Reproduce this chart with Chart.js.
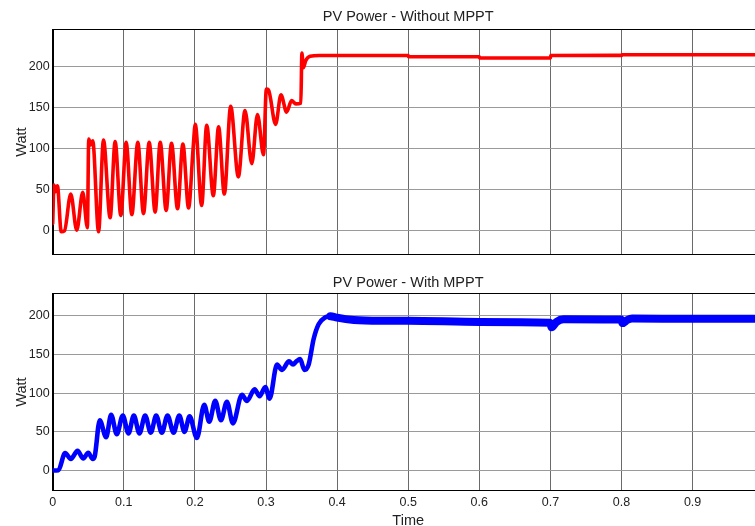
<!DOCTYPE html>
<html><head><meta charset="utf-8">
<script src="https://cdn.jsdelivr.net/npm/chart.js@4/dist/chart.umd.min.js"></script>
<style>
html,body{margin:0;padding:0;overflow:hidden;background:#fff;width:755px;height:526px}
#c1{position:absolute;left:0;top:0}
#c2{position:absolute;left:0;top:262px}
</style></head><body>
<canvas id="c1" width="770" height="262"></canvas>
<canvas id="c2" width="770" height="268"></canvas>
<script>
// ---- data ----
const topTitle = "PV Power - Without MPPT";
const bottomTitle = "PV Power - With MPPT";
const yAxisTitle = "Watt";
const xAxisTitle = "Time";
const xTicks = [0,0.1,0.2,0.3,0.4,0.5,0.6,0.7,0.8,0.9,1.0];
const xTickLabels = ["0","0.1","0.2","0.3","0.4","0.5","0.6","0.7","0.8","0.9","1"];
const yTicks = [0,50,100,150,200];

const redTime = [0,0.0018,0.0042,0.0066,0.012,0.0165,0.0254,0.0338,0.0423,0.0488,0.0507,0.0535,0.0563,0.0645,
  0.0714,0.0808,0.0878,0.0958,0.1033,0.1113,0.1197,0.1277,0.1357,0.1441,0.1512,0.1596,0.1671,0.1756,0.1831,0.1911,
  0.1975,0.2005,0.2095,0.2166,0.2259,0.2333,0.2414,0.2503,0.2611,0.2705,0.2800,0.2880,0.2965,0.3005,0.3035,0.3135,
  0.3210,0.3290,0.3360,0.3420,0.3490,0.3505,0.3525,0.3560,0.3620,0.3750,0.50,0.5005,0.60,0.6005,0.70,0.7005,0.80,0.8005,1.0];
const redWatt = [8,55,47,54,-2,-1,44,0,46,3,111,104,109,-2,
  110,15,108,18,107,19,107,20,107,22,107,24,106,26,105,27,
  100,129,30,128,42,126,44,151,65,146,81,141,92,172,171,129,
  165,144,158,154,155,216,198,207,212,213,213,211.5,211.5,210,210,213,213.2,214,214];

const blueTime = [0,0.008,0.0175,0.0255,0.035,0.043,0.050,0.0562,0.059,0.0662,0.0751,0.0822,0.0901,0.0986,0.1066,
  0.1141,0.122,0.130,0.138,0.1455,0.1535,0.1615,0.170,0.178,0.1854,0.1925,0.2028,0.2131,0.2202,0.2286,0.2366,0.245,
  0.2535,0.2662,0.2732,0.284,0.291,0.299,0.305,0.3155,0.3225,0.3324,0.338,0.3427,0.348,0.354,0.360,0.367,0.374,
  0.3836,0.3906,0.40,0.4235,0.461,0.5,0.6,0.6995,0.7015,0.7085,0.7185,0.7995,0.8015,0.808,0.815,0.9,1.0];
const blueWatt = [0,0.5,22.5,15,25.5,15.5,23,15,18,65,43,72,47,71,48,
  71,48,71,49,71,49,71,49,71,50,70,42,85,63,90,65,89,
  61,98,90,105,96,108,93,137,130,141,137,141,144,130,137,170,189,
  198,199.5,197.5,194.5,193.5,193.5,192,191,185,192,195.5,195,190.5,194.5,196.5,196,196];

// ---- helpers ----
const toPts = (xs, ys) => xs.map((x, i) => ({x, y: ys[i]}));
const FONT = "'Liberation Sans', Arial, Helvetica, sans-serif";
const TXT = '#222';

const framePlugin = {
  id: 'frame',
  beforeDatasetsDraw(chart) {
    const {ctx, chartArea: a} = chart;
    ctx.save();
    ctx.strokeStyle = '#000';
    ctx.lineWidth = 1;
    ctx.strokeRect(Math.round(a.left) + 0.5, Math.round(a.top) + 0.5,
                   Math.round(a.right - a.left), Math.round(a.bottom - a.top));
    ctx.restore();
  }
};

function makeChart(id, cfg) {
  return new Chart(document.getElementById(id), {
    type: 'line',
    data: { datasets: [{
      data: toPts(cfg.xs, cfg.ys),
      borderColor: cfg.color,
      borderWidth: cfg.width,
      segment: cfg.segment,
      pointRadius: 0,
      fill: false,
      cubicInterpolationMode: 'monotone',
      borderJoinStyle: 'round',
      borderCapStyle: 'round'
    }]},
    options: {
      responsive: false,
      animation: false,
      devicePixelRatio: 1,
      layout: { padding: { left: 0, right: 6.3, top: 0, bottom: 0 } },
      plugins: {
        legend: { display: false },
        tooltip: { enabled: false },
        title: {
          display: true, text: cfg.title, fullSize: false, color: TXT,
          font: { family: FONT, size: 14.5, weight: 'normal' },
          padding: cfg.titlePad
        }
      },
      scales: {
        x: {
          type: 'linear', min: 0, max: 1,
          afterBuildTicks: s => { s.ticks = xTicks.map(v => ({value: v})); },
          afterFit: s => { s.height = cfg.xHeight; s.paddingLeft = 0; s.paddingRight = 0; },
          grid: { color: '#6a6a6a', drawTicks: false, lineWidth: 1 },
          border: { display: true, color: '#000' },
          ticks: {
            display: cfg.showX, color: TXT, padding: 4, maxRotation: 0, autoSkip: false,
            font: { family: FONT, size: 12.5 },
            callback: (v, i) => xTickLabels[i]
          },
          title: {
            display: cfg.showX, text: xAxisTitle, color: TXT,
            font: { family: FONT, size: 14.5 }, padding: { top: 0, bottom: 0 }
          }
        },
        y: {
          type: 'linear', min: cfg.ymin, max: cfg.ymax,
          afterBuildTicks: s => { s.ticks = yTicks.map(v => ({value: v})); },
          afterFit: s => { s.width = 52.7; s.paddingTop = 0; s.paddingBottom = 0; },
          grid: { color: '#9a9a9a', drawTicks: false, lineWidth: 1 },
          border: { display: true, color: '#000' },
          ticks: { color: TXT, padding: 3, font: { family: FONT, size: 12.5 } },
          title: {
            display: true, text: yAxisTitle, color: TXT,
            font: { family: FONT, size: 14.5 }, padding: { top: 13, bottom: 0 }
          }
        }
      }
    },
    plugins: [framePlugin]
  });
}

makeChart('c1', {
  xs: redTime, ys: redWatt, color: '#ff0000', width: 3.6,
  title: topTitle, titlePad: { top: 8.5, bottom: 3.4 },
  xHeight: 7.3, showX: false, ymin: -30, ymax: 245
});
makeChart('c2', {
  xs: blueTime, ys: blueWatt, color: '#0000ff', width: 4.6,
  segment: { borderWidth: c => (c.p0.parsed.x >= 0.385 ? 8 : 4.6) },
  title: bottomTitle, titlePad: { top: 12, bottom: 1.9 },
  xHeight: 39.3, showX: true, ymin: -26, ymax: 229
});
</script>
</body></html>
